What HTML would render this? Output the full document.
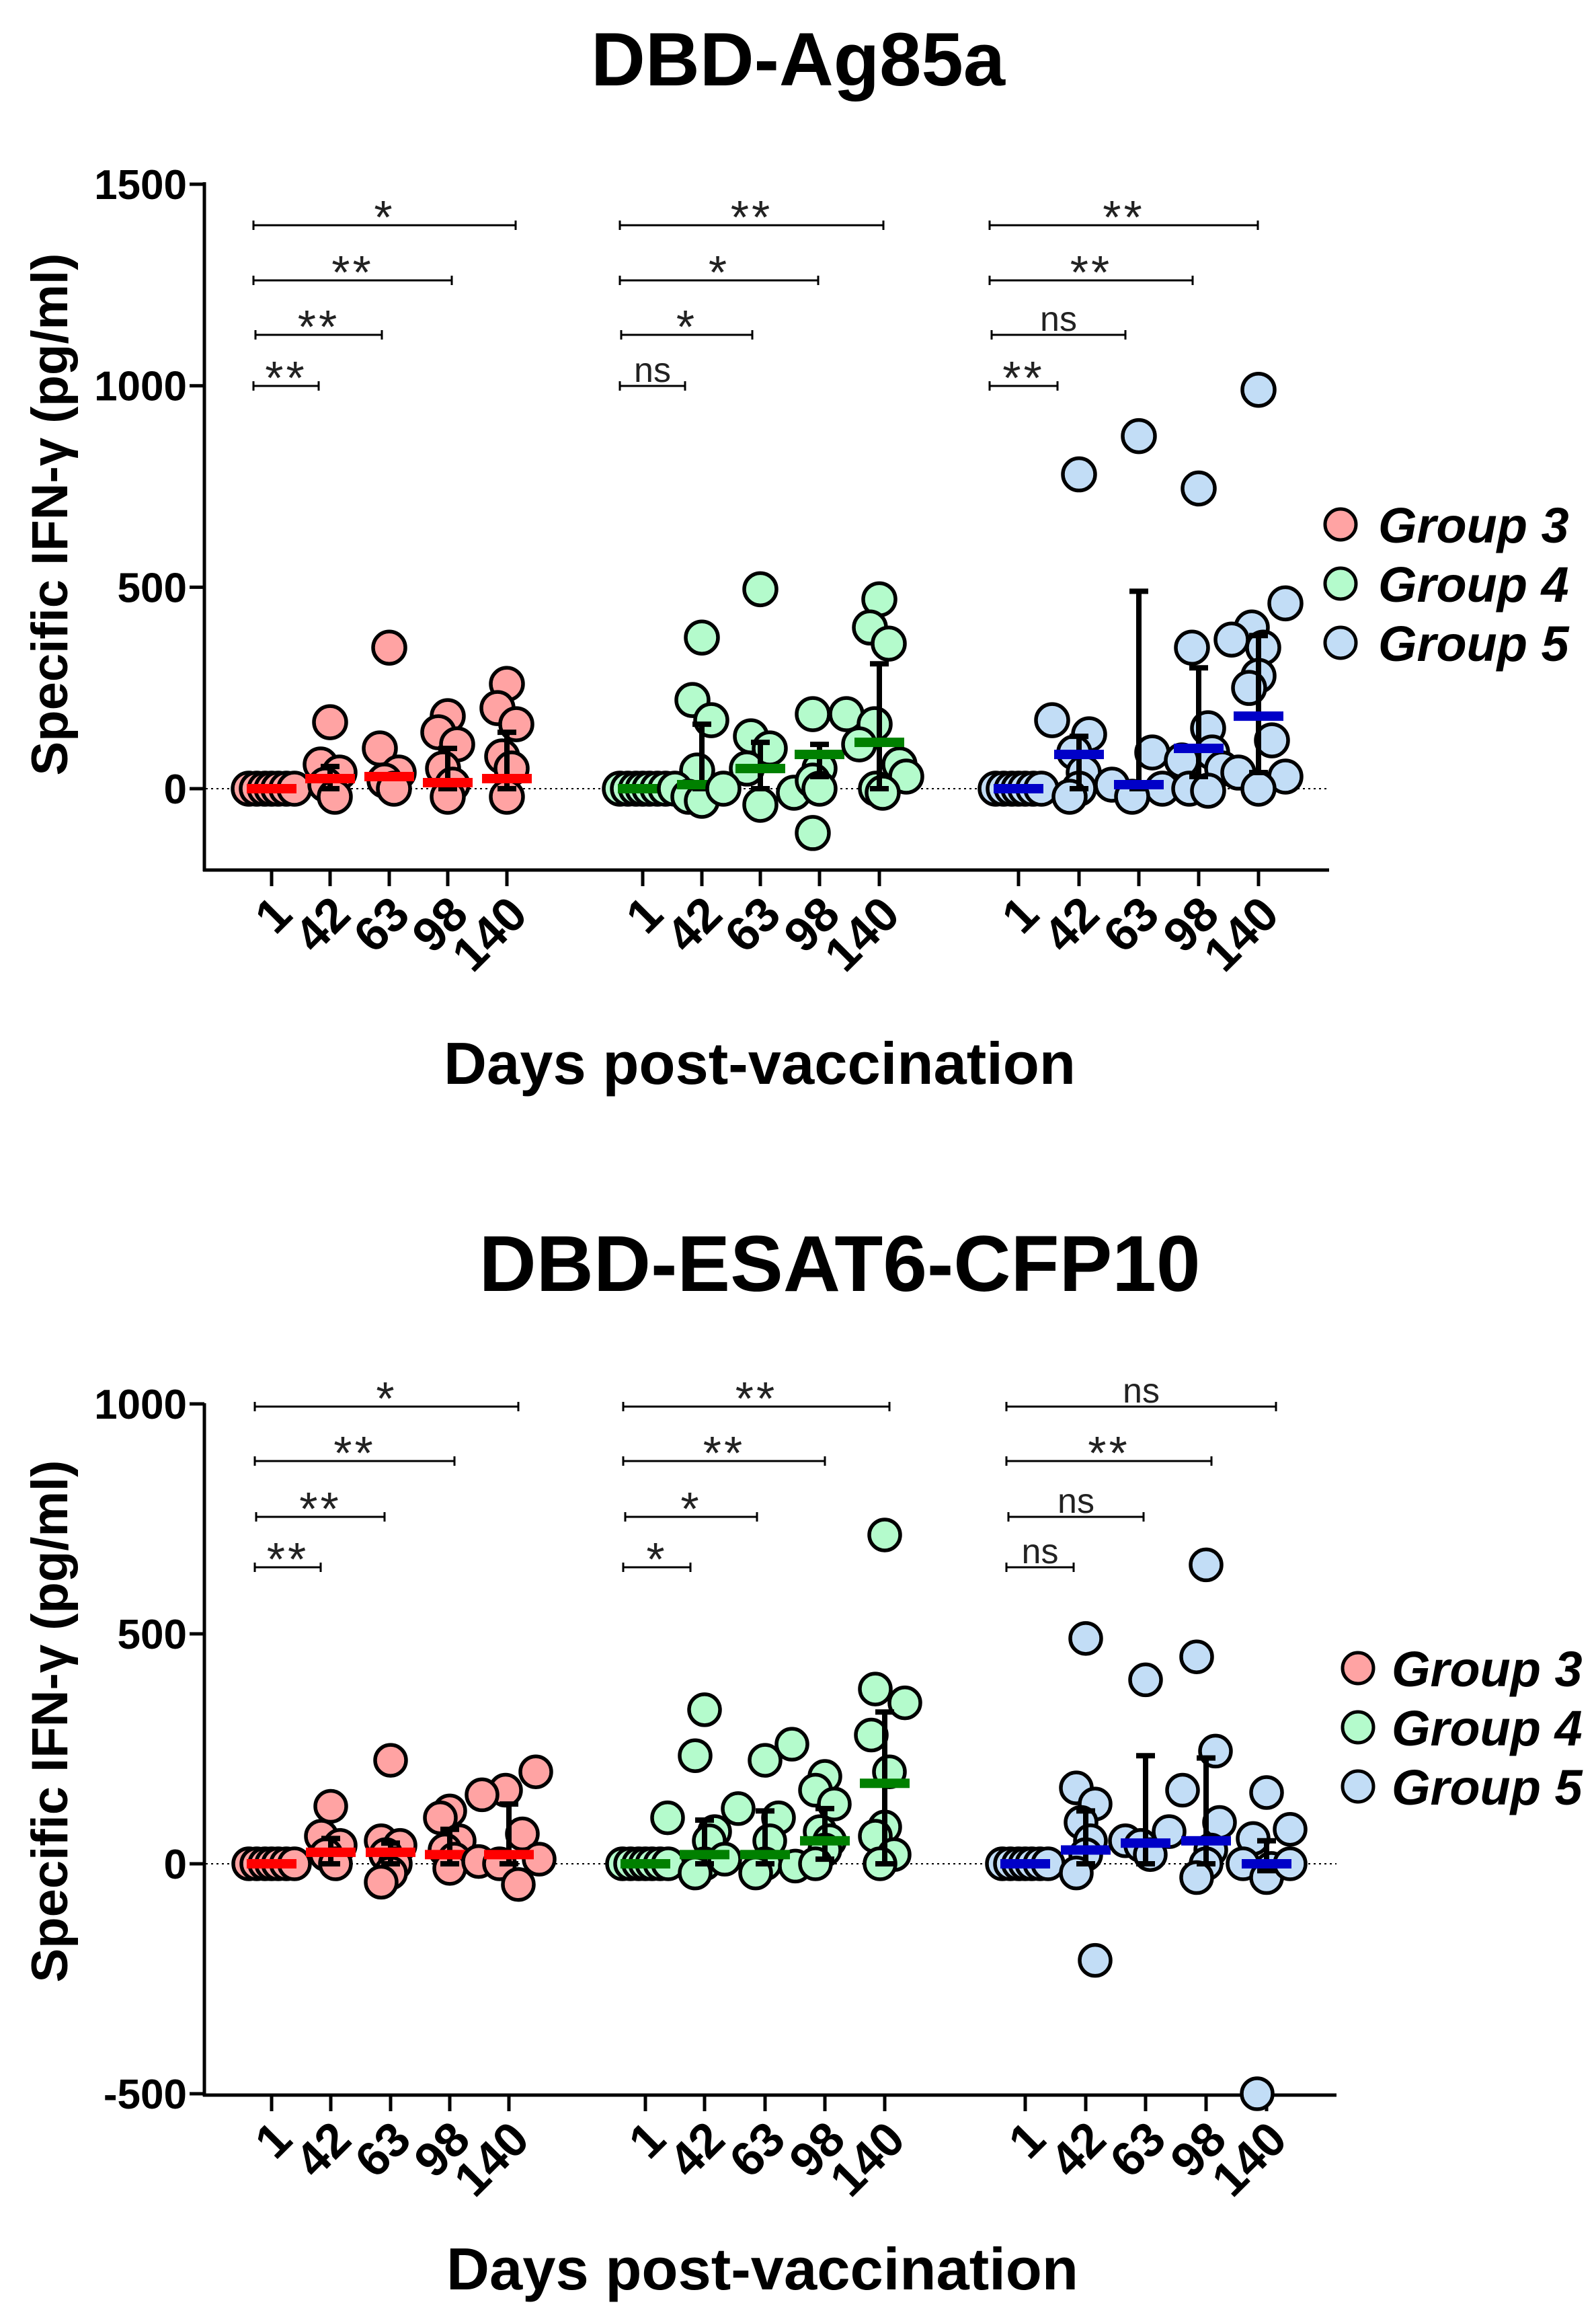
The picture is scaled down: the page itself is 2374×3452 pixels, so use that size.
<!DOCTYPE html>
<html><head><meta charset="utf-8"><style>html,body{margin:0;padding:0;background:#fff}svg{display:block}</style></head>
<body>
<svg id="s" xmlns="http://www.w3.org/2000/svg" width="2374" height="3452" viewBox="0 0 2374 3452" font-family="Liberation Sans, Arial, sans-serif"></svg>
<script>
const S=document.getElementById('s');let h='';
const FILL={r:'#ffa3a3',g:'#b4fbcc',b:'#c2ddf6'};
const MED={r:'#ff0000',g:'#008000',b:'#0000c8'};
function chart(o){
  const Y=v=>o.y0-v*o.k;
  h+=`<text x="${o.tx}" y="${o.ty}" font-size="${o.tfs}" font-weight="bold" text-anchor="middle">${o.title}</text>`;
  h+=`<line x1="304" y1="${o.top-2}" x2="304" y2="${o.bot+2}" stroke="#000" stroke-width="5"/>`;
  h+=`<line x1="302" y1="${o.bot}" x2="${o.xend}" y2="${o.bot}" stroke="#000" stroke-width="5"/>`;
  o.yt.forEach(v=>{h+=`<line x1="282" y1="${Y(v)}" x2="304" y2="${Y(v)}" stroke="#000" stroke-width="5"/><text x="278" y="${Y(v)+22}" font-size="62" font-weight="bold" text-anchor="end">${v}</text>`;});
  h+=`<line x1="306" y1="${o.y0}" x2="${o.xend}" y2="${o.y0}" stroke="#000" stroke-width="2" stroke-dasharray="3,5"/>`;
  const lab=['1','42','63','98','140'];
  o.ticks.forEach(g=>g.forEach((x,i)=>{h+=`<line x1="${x}" y1="${o.bot}" x2="${x}" y2="${o.bot+24}" stroke="#000" stroke-width="5"/>`;
    const ex=x+34,ey=o.bot+70;h+=`<text x="${ex}" y="${ey}" font-size="72" font-weight="bold" text-anchor="end" transform="rotate(-45 ${ex} ${ey})">${lab[i]}</text>`;}));
  h+=`<text x="${o.lx}" y="${o.ly}" font-size="88" font-weight="bold" text-anchor="middle" textLength="940" lengthAdjust="spacingAndGlyphs">Days post-vaccination</text>`;
  h+=`<text transform="translate(100 ${o.ylc}) rotate(-90)" font-size="76" font-weight="bold" text-anchor="middle">Specific IFN-γ (pg/ml)</text>`;
  o.sig.forEach(s=>{const [x1,x2,y,t]=s;h+=`<path d="M${x1} ${y}H${x2}M${x1} ${y-7}V${y+7}M${x2} ${y-7}V${y+7}" stroke="#000" stroke-width="3" fill="none"/>`;
    const cx=(x1+x2)/2; if(t=='ns')h+=`<text x="${cx}" y="${y-6}" font-size="52" text-anchor="middle" fill="#222">ns</text>`;
    else h+=`<text x="${cx}" y="${y+12}" font-size="70" text-anchor="middle" fill="#222" letter-spacing="4">${t}</text>`;});
  o.data.forEach((grp,gi)=>{const c='rgb'[gi];grp.forEach((d,i)=>{const x=o.ticks[gi][i];
    let pts=d.p;pts.forEach((p,j)=>{let v,dx;if(Array.isArray(p)){v=p[0];dx=p[1];}else{v=p;dx=[0,-14,14,-7,7][j%5];}
      h+=`<circle cx="${x+dx}" cy="${Y(v)}" r="${o.r}" fill="${FILL[c]}" stroke="#000" stroke-width="5.5"/>`;});
    if(d.e){const[a,b]=d.e;h+=`<path d="M${x} ${Y(a)}V${Y(b)}M${x-14} ${Y(a)}H${x+14}M${x-14} ${Y(b)}H${x+14}" stroke="#000" stroke-width="8" fill="none"/>`;}
    h+=`<rect x="${x-37}" y="${Y(d.m)-7}" width="74" height="14" fill="${MED[c]}"/>`;});});
  ['Group 3','Group 4','Group 5'].forEach((t,i)=>{const y=o.leg[1]+i*o.leg[3];
    h+=`<circle cx="${o.leg[0]}" cy="${y}" r="23" fill="${FILL['rgb'[i]]}" stroke="#000" stroke-width="5"/><text x="${o.leg[2]}" y="${y+27}" font-size="74" font-weight="bold" font-style="italic">${t}</text>`;});
}
const Z=[[0,-34],[0,-22],[0,-10],[0,0],[0,10],[0,22],[0,34]];
chart({title:'DBD-Ag85a',tfs:112,tx:1187,ty:127,y0:1173,k:0.5993,top:273,bot:1294,xend:1977,yt:[1500,1000,500,0],
 ticks:[[404,491,579,666,754],[956,1044,1131,1219,1308],[1515,1605,1694,1783,1872]],lx:1130,ly:1612,ylc:765,r:24,
 leg:[1994,780,2050,88],
 sig:[[377,767,335,'*'],[377,672,417,'**'],[380,568,498,'**'],[377,474,574,'**'],
      [922,1314,335,'**'],[922,1217,417,'*'],[924,1119,498,'*'],[922,1019,574,'ns'],
      [1472,1871,335,'**'],[1472,1774,417,'**'],[1475,1674,498,'ns'],[1472,1573,574,'**']],
 data:[[{p:Z,m:0},{p:[165,60,40,10,-20],m:25,e:[0,55]},{p:[350,100,40,20,0],m:30},{p:[180,140,110,50,10,-20],m:15,e:[0,100]},{p:[260,200,160,80,50,-20],m:25,e:[0,140]}],
  [{p:Z,m:0},{p:[375,220,170,45,[0,-40],[-20,-20],[-30,0]],m:10,e:[0,160]},{p:[495,130,100,[50,-20],[0,-55],[-10,50],[-40,0]],m:50,e:[0,115]},{p:[[185,-10],[185,40],[50,0],[20,-10],[0,0],[-110,-10]],m:85,e:[30,110]},{p:[470,400,360,160,[110,-30],[60,30],[30,40],[0,-5],[-10,5]],m:115,e:[0,310]}],
  [{p:Z,m:0},{p:[780,[170,-40],[135,15],90,40,0,-20],m:85,e:[0,130]},{p:[875,[90,20],[10,-40],[0,35],[-20,-10]],m:10,e:[0,490]},{p:[[745,0],[350,-10],150,[90,20],[70,-25],[50,35],0,-5],m:100,e:[30,300]},{p:[990,[460,40],[400,-10],[370,-40],350,280,250,[120,20],[40,-30],[30,40],0],m:180,e:[40,380]}]]
});
chart({title:'DBD-ESAT6-CFP10',tfs:118,tx:1249,ty:1920,y0:2772,k:0.684,top:2089,bot:3116,xend:1988,yt:[1000,500,0,-500],
 ticks:[[404,492,581,669,757],[960,1048,1138,1227,1316],[1525,1615,1704,1794,1884]],lx:1134,ly:3405,ylc:2560,r:23,
 leg:[2020,2481,2070,88],
 sig:[[379,771,2092,'*'],[379,676,2173,'**'],[381,572,2256,'**'],[379,477,2331,'**'],
      [927,1323,2092,'**'],[927,1227,2173,'**'],[930,1126,2256,'*'],[927,1027,2331,'*'],
      [1497,1898,2092,'ns'],[1497,1802,2173,'**'],[1500,1701,2256,'ns'],[1497,1597,2331,'ns']],
 data:[[{p:Z,m:0},{p:[125,60,40,20,0],m:25,e:[0,55]},{p:[225,50,40,20,0,-20,-40],m:25,e:[0,45]},{p:[115,100,50,30,10,-10],m:20,e:[0,75]},{p:[[200,40],[160,-5],[150,-40],[65,20],[10,45],[5,-45],0,-45],m:20,e:[0,130]}],
  [{p:Z,m:0},{p:[335,235,[100,-55],[70,15],50,0,-20,[10,30]],m:20,e:[0,95]},{p:[225,[260,40],[120,-40],[100,20],50,0,-20,[-5,45]],m:20,e:[0,115]},{p:[190,160,130,70,50,30,0],m:50,e:[10,120]},{p:[715,380,[350,30],[280,-20],200,80,60,20,0],m:175,e:[0,330]}],
  [{p:Z,m:0},{p:[490,165,130,90,50,20,-20,-210],m:30,e:[0,115]},{p:[400,[70,35],[50,-30],40,20],m:45,e:[0,235]},{p:[650,450,245,[90,20],30,0,-30,[160,-35]],m:50,e:[0,230]},{p:[155,[75,35],[55,-20],[0,-35],-10,-30,-500,[0,35]],m:0,e:[-15,50]}]]
});
S.innerHTML=h;
</script>
</body></html>
